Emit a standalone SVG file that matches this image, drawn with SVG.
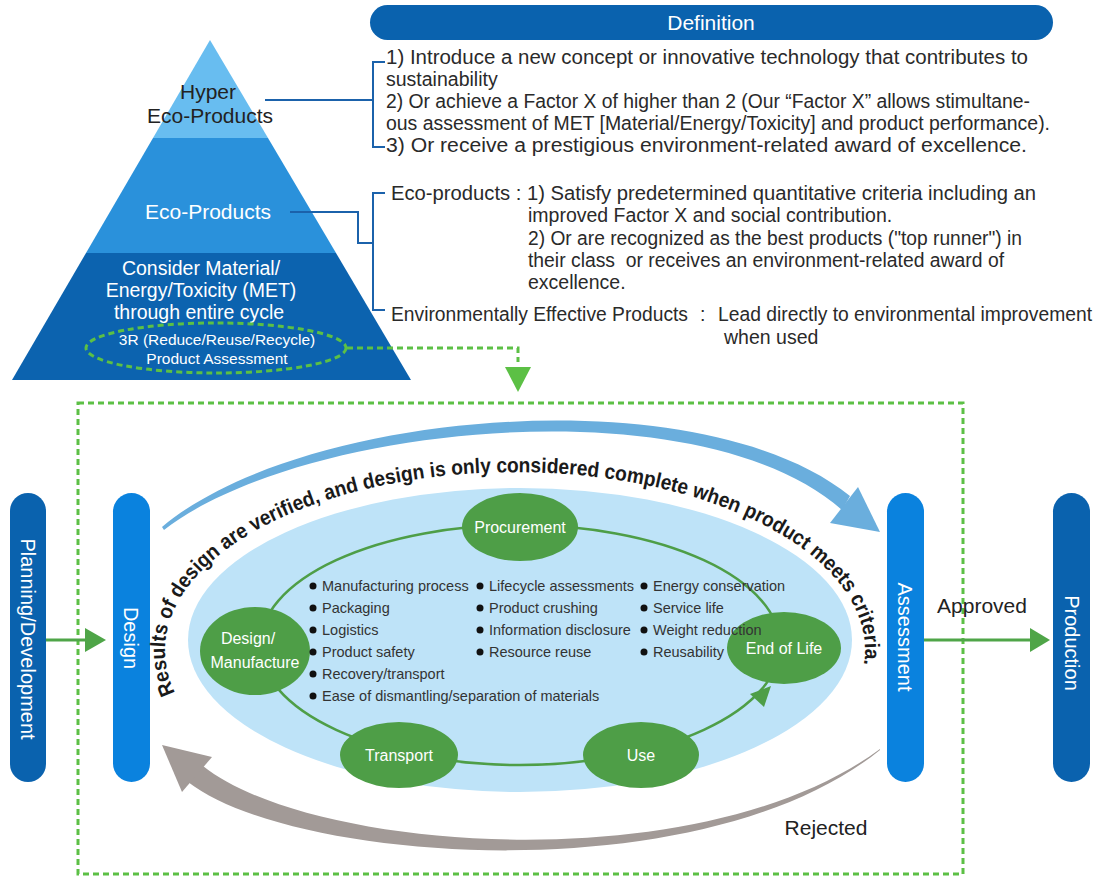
<svg xmlns="http://www.w3.org/2000/svg" width="1098" height="879" viewBox="0 0 1098 879">
<defs>
<style>
text{font-family:"Liberation Sans",Arial,sans-serif;}
.def{font-size:19.5px;fill:#2a2a2a;}
.wt{fill:#ffffff;}
.bl{font-size:14.5px;fill:#333333;}
.nd{font-size:16px;fill:#ffffff;text-anchor:middle;}
.pill{font-size:20px;fill:#ffffff;text-anchor:middle;dominant-baseline:central;}
.brk{fill:none;stroke:#1b62ab;stroke-width:2;}
.dash{fill:none;stroke:#5cc045;stroke-width:3;stroke-dasharray:6 4;}
.gl{fill:none;stroke:#4e9e47;stroke-width:2.5;}
</style>
</defs>
<rect width="1098" height="879" fill="#ffffff"/>

<g id="pyramid">
<polygon points="210,40 268,138 153,138" fill="#68bdf0"/>
<polygon points="153,138 268,138 336,253 86,253" fill="#2a91db"/>
<polygon points="86,253 336,253 411,380 12,380" fill="#0c63af"/>
<text x="208" y="99" font-size="21" fill="#222" text-anchor="middle">Hyper</text>
<text x="210" y="123" font-size="21" fill="#222" text-anchor="middle">Eco-Products</text>
<text x="208" y="219" font-size="21" class="wt" text-anchor="middle">Eco-Products</text>
<text x="201" y="275" font-size="19.5" class="wt" text-anchor="middle">Consider Material/</text>
<text x="201" y="297" font-size="19.5" class="wt" text-anchor="middle">Energy/Toxicity (MET)</text>
<text x="199" y="319" font-size="19.5" class="wt" text-anchor="middle">through entire cycle</text>
</g>

<g id="assessment-3r">
<ellipse cx="216" cy="348" rx="130" ry="25" class="dash"/>
<text x="217" y="345" font-size="15.5" class="wt" text-anchor="middle">3R (Reduce/Reuse/Recycle)</text>
<text x="217" y="364" font-size="15.5" class="wt" text-anchor="middle">Product Assessment</text>
</g>

<g id="definition">
<rect x="370" y="5" width="683" height="35" rx="17.5" fill="#0a62ae"/>
<text x="711" y="30" font-size="21" class="wt" text-anchor="middle">Definition</text>
<text x="386" y="64" class="def" textLength="642" lengthAdjust="spacingAndGlyphs">1) Introduce a new concept or innovative technology that contributes to</text>
<text x="386" y="86" class="def">sustainability</text>
<text x="386" y="108" class="def" textLength="644" lengthAdjust="spacingAndGlyphs">2) Or achieve a Factor X of higher than 2 (Our “Factor X” allows stimultane-</text>
<text x="386" y="130" class="def" textLength="664" lengthAdjust="spacingAndGlyphs">ous assessment of MET [Material/Energy/Toxicity] and product performance).</text>
<text x="386" y="152" class="def" textLength="641" lengthAdjust="spacingAndGlyphs">3) Or receive a prestigious environment-related award of excellence.</text>
<text x="391" y="200" class="def" textLength="645" lengthAdjust="spacingAndGlyphs">Eco-products : 1) Satisfy predetermined quantitative criteria including an</text>
<text x="528" y="222" class="def">improved Factor X and social contribution.</text>
<text x="528" y="245" class="def" textLength="494" lengthAdjust="spacingAndGlyphs">2) Or are recognized as the best products ("top runner") in</text>
<text x="528" y="267" class="def" xml:space="preserve" textLength="476" lengthAdjust="spacingAndGlyphs">their class  or receives an environment-related award of</text>
<text x="528" y="289" class="def">excellence.</text>
<text x="391" y="321" class="def" textLength="297" lengthAdjust="spacingAndGlyphs">Environmentally Effective Products</text>
<text x="700" y="321" class="def">:</text>
<text x="718" y="321" class="def" textLength="374" lengthAdjust="spacingAndGlyphs">Lead directly to environmental improvement</text>
<text x="724" y="344" class="def">when used</text>
</g>

<g id="planning">
<rect x="10" y="493" width="36" height="289" rx="18" fill="#0a62ae"/>
<text class="pill" transform="translate(28,639) rotate(90)">Planning/Development</text>
</g>
<g id="design">
<rect x="113" y="493" width="37" height="289" rx="18.5" fill="#0a82de"/>
<text class="pill" transform="translate(131,638) rotate(90)">Design</text>
</g>
<g id="assessment">
<rect x="887" y="493" width="37" height="289" rx="18.5" fill="#0a82de"/>
<text class="pill" transform="translate(905,637) rotate(90)">Assessment</text>
</g>
<g id="production">
<rect x="1053" y="493" width="37" height="289" rx="18.5" fill="#0a62ae"/>
<text class="pill" font-size="21" transform="translate(1072,643) rotate(90)">Production</text>
</g>

<g id="lifecycle-area">
<ellipse cx="520" cy="640" rx="332" ry="152" fill="#bee3f8"/>
</g>

<g id="connectors">
<path class="brk" d="M265,100 H373"/>
<path class="brk" d="M385,62 H373 V147 H385"/>
<path class="brk" d="M290,212 H358 V243 H373"/>
<path class="brk" d="M385,193 H373 V310 H385"/>
<path class="dash" d="M347,348 H518 V362"/>
<polygon points="505,367 531,367 518,392" fill="#5cc045"/>
<rect x="78" y="403" width="885" height="471" class="dash"/>
<line x1="46" y1="640" x2="88" y2="640" stroke="#4fa548" stroke-width="3"/>
<polygon points="85,628 106,640 85,652" fill="#4fa548"/>
<line x1="924" y1="640" x2="1032" y2="640" stroke="#4fa548" stroke-width="3"/>
<polygon points="1030,628 1050,640 1030,652" fill="#4fa548"/>
<ellipse cx="520" cy="645" rx="260" ry="120" class="gl"/>
<polygon points="771,686 750,694 764,707" fill="#4e9e47"/>
<path d="M162,527 C300,410 700,375 850,496 L842,510 C700,384 300,424 164,530 Z" fill="#6aaedd"/>
<polygon points="880,532 858,487 830,523" fill="#6aaedd"/>
<path d="M188,782 C290,862 700,895 880,750 L880,749 C700,882 310,852 203,766 Z" fill="#a29a97"/>
<polygon points="162,745 212,757 182,792" fill="#a29a97"/>
</g>

<g id="labels">
<text x="982" y="613" font-size="21" fill="#222" text-anchor="middle">Approved</text>
<text x="826" y="835" font-size="21" fill="#222" text-anchor="middle">Rejected</text>
<path id="arcText" d="M179,700 A350,178 0 1 1 851,700" fill="none"/>
<text font-size="21" font-weight="bold" fill="#1a1a1a"><textPath href="#arcText" startOffset="8" textLength="910" lengthAdjust="spacingAndGlyphs">Results of design are verified, and design is only considered complete when product meets criteria.</textPath></text>
</g>

<g id="procurement">
<ellipse cx="520" cy="527" rx="58" ry="34" fill="#4e9e47"/>
<text x="520" y="533" class="nd">Procurement</text>
</g>
<g id="design-manufacture">
<ellipse cx="255" cy="651" rx="55" ry="44" fill="#4e9e47"/>
<text x="248" y="644" class="nd">Design/</text>
<text x="255" y="668" class="nd">Manufacture</text>
</g>
<g id="end-of-life">
<ellipse cx="784" cy="648" rx="57" ry="36" fill="#4e9e47"/>
<text x="784" y="654" class="nd">End of Life</text>
</g>
<g id="transport">
<ellipse cx="399" cy="755" rx="59" ry="33" fill="#4e9e47"/>
<text x="399" y="761" class="nd">Transport</text>
</g>
<g id="use">
<ellipse cx="641" cy="755" rx="58" ry="33" fill="#4e9e47"/>
<text x="641" y="761" class="nd">Use</text>
</g>

<g id="bullets">
<g fill="#111">
<circle cx="313" cy="586" r="3.5"/><circle cx="313" cy="608" r="3.5"/><circle cx="313" cy="630" r="3.5"/><circle cx="313" cy="652" r="3.5"/><circle cx="313" cy="674" r="3.5"/><circle cx="313" cy="696" r="3.5"/>
<circle cx="480" cy="586" r="3.5"/><circle cx="480" cy="608" r="3.5"/><circle cx="480" cy="630" r="3.5"/><circle cx="480" cy="652" r="3.5"/>
<circle cx="644" cy="586" r="3.5"/><circle cx="644" cy="608" r="3.5"/><circle cx="644" cy="630" r="3.5"/><circle cx="644" cy="652" r="3.5"/>
</g>
<text x="322" y="591" class="bl">Manufacturing process</text>
<text x="322" y="613" class="bl">Packaging</text>
<text x="322" y="635" class="bl">Logistics</text>
<text x="322" y="657" class="bl">Product safety</text>
<text x="322" y="679" class="bl">Recovery/transport</text>
<text x="322" y="701" class="bl">Ease of dismantling/separation of materials</text>
<text x="489" y="591" class="bl">Lifecycle assessments</text>
<text x="489" y="613" class="bl">Product crushing</text>
<text x="489" y="635" class="bl">Information disclosure</text>
<text x="489" y="657" class="bl">Resource reuse</text>
<text x="653" y="591" class="bl">Energy conservation</text>
<text x="653" y="613" class="bl">Service life</text>
<text x="653" y="635" class="bl">Weight reduction</text>
<text x="653" y="657" class="bl">Reusability</text>
</g>
</svg>
